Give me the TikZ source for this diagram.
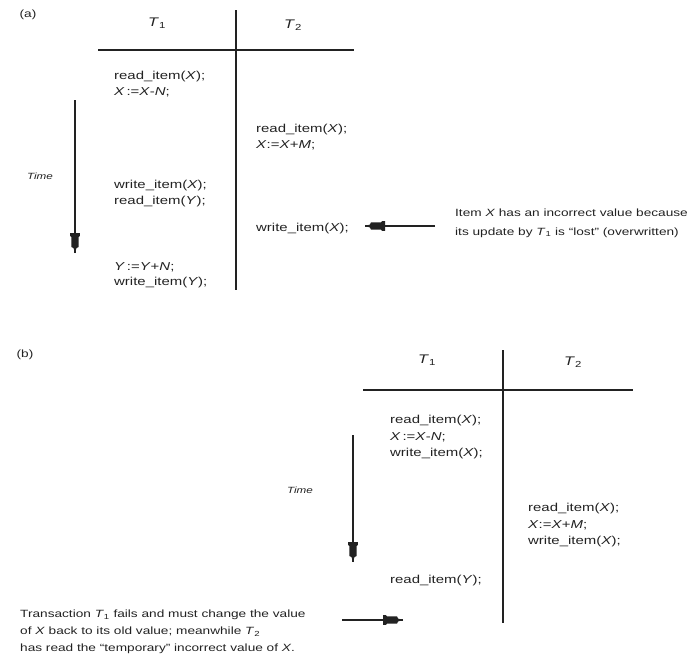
\documentclass[tikz,border=0pt]{standalone}
\usepackage{fontspec}
\newfontfamily\lbl{Liberation Sans}[FakeStretch=1.3]
\definecolor{ink}{HTML}{222222}
\tikzset{
  rule/.style={draw=ink, line width=1.2pt},
  shaft/.style={draw=ink, line width=1.4pt},
  codetxt/.style={font=\lbl\fontsize{11.5}{15.5}\selectfont, anchor=north west,
    inner sep=0pt, align=left, text=ink},
  codetxtb/.style={codetxt, font=\lbl\fontsize{11.5}{16.5}\selectfont},
  note/.style={font=\lbl\fontsize{10.5}{18.5}\selectfont, anchor=north west,
    inner sep=0pt, align=left, text=ink},
  head/.style={font=\lbl\fontsize{12.5}{14}\selectfont, inner sep=0pt, text=ink},
  tag/.style={font=\lbl\fontsize{10.5}{12}\selectfont, inner sep=0pt, text=ink},
  timelbl/.style={font=\lbl\itshape\fontsize{9}{11}\selectfont, inner sep=0pt, text=ink},
  blockhead/.pic={\fill[ink] (0,0) -- (-5,-1.5) -- (-6,-3.6) -- (-16,-3.6) -- (-17,-4.8)
    -- (-20,-4.8) -- (-20,4.8) -- (-17,4.8) -- (-16,3.6) -- (-6,3.6) -- (-5,1.5) -- cycle;}
}
\newcommand{\Tsub}[1]{\textit{T}\textsubscript{#1}}
\newcommand{\vx}[1]{\textit{#1}}
\begin{document}
\begin{tikzpicture}[x=1pt,y=-1pt]
\useasboundingbox (0,0) rectangle (689,662);

% ---------- schedule (a): lost update ----------
\node[tag] (alab) at (28,15) {(a)};
\node[head] (at1) at (157,23) {\Tsub{1}};
\node[head] (at2) at (293,25) {\Tsub{2}};
\coordinate (ah1) at (98,50);  \coordinate (ah2) at (354,50);
\coordinate (av1) at (236,10); \coordinate (av2) at (236,290);
\draw[rule] (ah1) -- (ah2);
\draw[rule] (av1) -- (av2);

\node[codetxt] (a1) at (114,71) {read\_item(\vx{X});\\\vx{X}\,:=\vx{X}-\vx{N};};
\node[codetxt] (a2) at (256,124) {read\_item(\vx{X});\\\vx{X}:=\vx{X}+\vx{M};};
\node[codetxt] (a3) at (114,180) {write\_item(\vx{X});\\read\_item(\vx{Y});};
\node[codetxt] (a4) at (256,223) {write\_item(\vx{X});};
\node[codetxt] (a5) at (114,262) {\vx{Y}\,:=\vx{Y}+\vx{N};\\write\_item(\vx{Y});};

\node[timelbl] (atime) at (40,176) {Time};
\coordinate (ta1) at (75,100);
\coordinate (ta2) at (75,253);
\draw[shaft] (ta1) -- (ta2);
\pic[rotate=-90] at (ta2) {blockhead};

\node[note] (anote) at (455,209) {Item \vx{X} has an incorrect value because\\
  its update by \Tsub{1} is “lost” (overwritten)};
\coordinate (aa1) at (435,226);
\coordinate (aa2) at (365,226);
\draw[shaft] (aa1) -- (aa2);
\pic[rotate=180] at (aa2) {blockhead};

% ---------- schedule (b): temporary update ----------
\node[tag] (blab) at (25,355) {(b)};
\node[head] (bt1) at (427,360) {\Tsub{1}};
\node[head] (bt2) at (573,362) {\Tsub{2}};
\coordinate (bh1) at (363,390); \coordinate (bh2) at (633,390);
\coordinate (bv1) at (503,350); \coordinate (bv2) at (503,623);
\draw[rule] (bh1) -- (bh2);
\draw[rule] (bv1) -- (bv2);

\node[codetxtb] (b1) at (390,415) {read\_item(\vx{X});\\\vx{X}\,:=\vx{X}-\vx{N};\\write\_item(\vx{X});};
\node[codetxtb] (b2) at (528,503) {read\_item(\vx{X});\\\vx{X}:=\vx{X}+\vx{M};\\write\_item(\vx{X});};
\node[codetxtb] (b3) at (390,575) {read\_item(\vx{Y});};

\node[timelbl] (btime) at (300,490) {Time};
\coordinate (tb1) at (353,435);
\coordinate (tb2) at (353,562);
\draw[shaft] (tb1) -- (tb2);
\pic[rotate=-90] at (tb2) {blockhead};

\node[note, font=\lbl\fontsize{10.5}{17}\selectfont] (bnote) at (20,610)
  {Transaction \Tsub{1} fails and must change the value\\
   of \vx{X} back to its old value; meanwhile \Tsub{2}\\
   has read the “temporary” incorrect value of \vx{X}.};
\coordinate (ba1) at (342,620);
\coordinate (ba2) at (403,620);
\draw[shaft] (ba1) -- (ba2);
\pic at (ba2) {blockhead};
\end{tikzpicture}
\end{document}
